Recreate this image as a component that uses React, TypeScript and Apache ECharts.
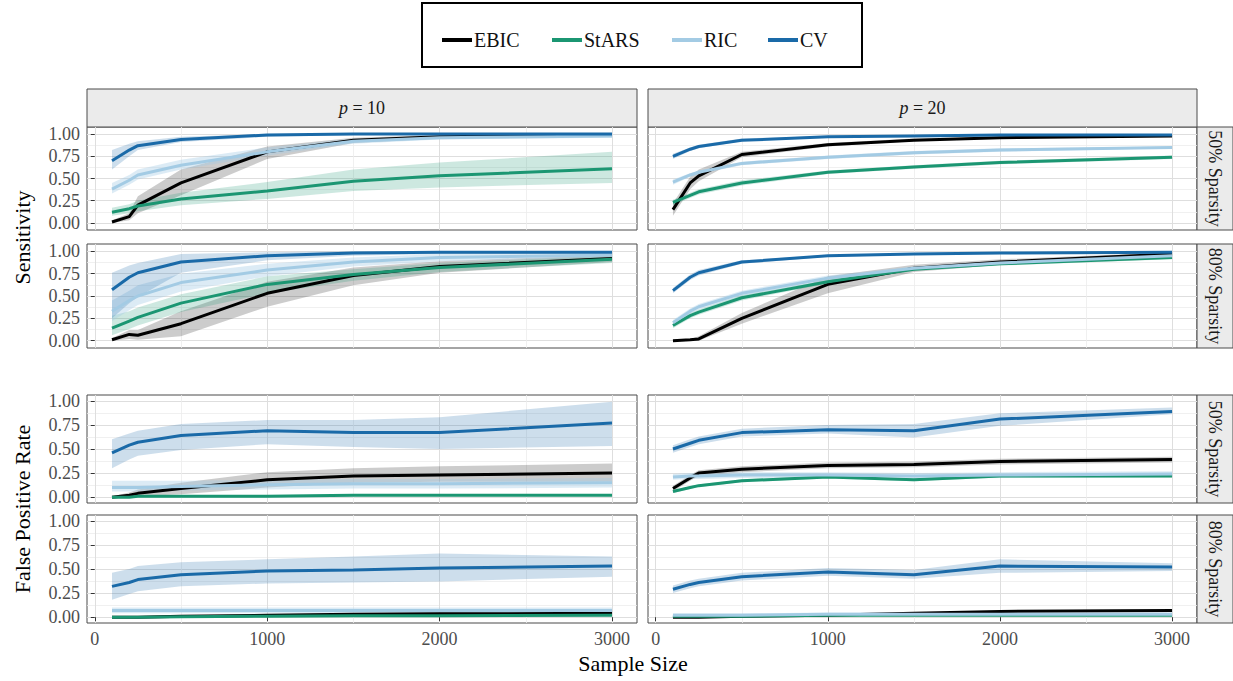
import React, { useEffect, useRef } from "react";
import * as echarts from "echarts";

// ---------- data ----------
const SAMPLE_SIZES = [100, 200, 250, 500, 1000, 1500, 2000, 3000];
const METHODS = ["EBIC", "StARS", "RIC", "CV"];
const COL_LABELS = ["10", "20"];
const ROW_LABELS = ["50% Sparsity", "80% Sparsity", "50% Sparsity", "80% Sparsity"];
const X_TICKS = [0, 1000, 2000, 3000];
const X_MINOR = [500, 1500, 2500];
const Y_TICKS = [0, 0.25, 0.5, 0.75, 1];
const Y_MINOR = [0.125, 0.375, 0.625, 0.875];

// p = 10, Sensitivity, 50% sparsity
const P10_SENS50_EBIC = [0.01, 0.07, 0.2, 0.45, 0.8, 0.93, 0.97, 0.99];
const P10_SENS50_EBIC_LO = [0.0, 0.03, 0.11, 0.31, 0.72, 0.9, 0.95, 0.98];
const P10_SENS50_EBIC_HI = [0.03, 0.11, 0.3, 0.6, 0.86, 0.96, 0.99, 1.0];
const P10_SENS50_STARS = [0.12, 0.16, 0.19, 0.27, 0.36, 0.47, 0.53, 0.61];
const P10_SENS50_STARS_LO = [0.08, 0.11, 0.13, 0.2, 0.27, 0.36, 0.4, 0.45];
const P10_SENS50_STARS_HI = [0.17, 0.21, 0.25, 0.34, 0.46, 0.6, 0.68, 0.8];
const P10_SENS50_RIC = [0.38, 0.48, 0.54, 0.65, 0.8, 0.92, 0.96, 0.98];
const P10_SENS50_RIC_LO = [0.33, 0.43, 0.49, 0.6, 0.76, 0.89, 0.94, 0.96];
const P10_SENS50_RIC_HI = [0.45, 0.54, 0.6, 0.71, 0.85, 0.95, 0.98, 0.99];
const P10_SENS50_CV = [0.7, 0.82, 0.87, 0.94, 0.99, 1.0, 1.0, 1.0];
const P10_SENS50_CV_LO = [0.6, 0.75, 0.82, 0.91, 0.97, 0.99, 0.99, 0.99];
const P10_SENS50_CV_HI = [0.82, 0.89, 0.92, 0.97, 1.0, 1.0, 1.0, 1.0];

// p = 10, Sensitivity, 80% sparsity
const P10_SENS80_EBIC = [0.01, 0.07, 0.06, 0.19, 0.53, 0.73, 0.83, 0.92];
const P10_SENS80_EBIC_LO = [0.0, 0.02, 0.01, 0.05, 0.38, 0.62, 0.76, 0.88];
const P10_SENS80_EBIC_HI = [0.03, 0.12, 0.12, 0.33, 0.66, 0.82, 0.89, 0.96];
const P10_SENS80_STARS = [0.14, 0.22, 0.26, 0.42, 0.63, 0.74, 0.82, 0.91];
const P10_SENS80_STARS_LO = [0.06, 0.13, 0.17, 0.32, 0.53, 0.67, 0.77, 0.87];
const P10_SENS80_STARS_HI = [0.28, 0.33, 0.37, 0.52, 0.72, 0.8, 0.87, 0.95];
const P10_SENS80_RIC = [0.33, 0.45, 0.5, 0.65, 0.79, 0.88, 0.93, 0.96];
const P10_SENS80_RIC_LO = [0.22, 0.34, 0.4, 0.55, 0.72, 0.83, 0.89, 0.93];
const P10_SENS80_RIC_HI = [0.45, 0.56, 0.62, 0.75, 0.86, 0.93, 0.97, 0.99];
const P10_SENS80_CV = [0.57, 0.71, 0.76, 0.88, 0.95, 0.98, 0.99, 0.99];
const P10_SENS80_CV_LO = [0.25, 0.42, 0.49, 0.76, 0.9, 0.95, 0.97, 0.98];
const P10_SENS80_CV_HI = [0.76, 0.84, 0.87, 0.97, 0.99, 1.0, 1.0, 1.0];

// p = 10, FPR, 50% sparsity
const P10_FPR50_EBIC = [0.0, 0.02, 0.04, 0.09, 0.18, 0.22, 0.23, 0.25];
const P10_FPR50_EBIC_LO = [0.0, 0.0, 0.01, 0.03, 0.1, 0.15, 0.16, 0.16];
const P10_FPR50_EBIC_HI = [0.01, 0.05, 0.08, 0.15, 0.26, 0.3, 0.32, 0.35];
const P10_FPR50_STARS = [0.0, 0.0, 0.01, 0.01, 0.01, 0.02, 0.02, 0.02];
const P10_FPR50_STARS_LO = [0.0, 0.0, 0.0, 0.0, 0.0, 0.01, 0.01, 0.01];
const P10_FPR50_STARS_HI = [0.01, 0.01, 0.02, 0.02, 0.02, 0.03, 0.03, 0.03];
const P10_FPR50_RIC = [0.1, 0.1, 0.1, 0.11, 0.13, 0.14, 0.14, 0.15];
const P10_FPR50_RIC_LO = [0.06, 0.06, 0.06, 0.07, 0.08, 0.09, 0.09, 0.1];
const P10_FPR50_RIC_HI = [0.17, 0.17, 0.17, 0.17, 0.18, 0.19, 0.19, 0.2];
const P10_FPR50_CV = [0.46, 0.54, 0.57, 0.64, 0.69, 0.67, 0.67, 0.77];
const P10_FPR50_CV_LO = [0.3, 0.39, 0.43, 0.49, 0.55, 0.52, 0.5, 0.53];
const P10_FPR50_CV_HI = [0.6, 0.66, 0.69, 0.76, 0.8, 0.8, 0.83, 0.99];

// p = 10, FPR, 80% sparsity
const P10_FPR80_EBIC = [0.0, 0.0, 0.0, 0.01, 0.02, 0.03, 0.035, 0.04];
const P10_FPR80_EBIC_LO = [0.0, 0.0, 0.0, 0.0, 0.01, 0.02, 0.02, 0.03];
const P10_FPR80_EBIC_HI = [0.01, 0.01, 0.01, 0.02, 0.03, 0.04, 0.05, 0.05];
const P10_FPR80_STARS = [0.0, 0.0, 0.0, 0.005, 0.01, 0.015, 0.015, 0.02];
const P10_FPR80_STARS_LO = [0.0, 0.0, 0.0, 0.0, 0.0, 0.005, 0.005, 0.01];
const P10_FPR80_STARS_HI = [0.01, 0.01, 0.01, 0.015, 0.02, 0.025, 0.025, 0.03];
const P10_FPR80_RIC = [0.07, 0.07, 0.07, 0.07, 0.07, 0.07, 0.07, 0.07];
const P10_FPR80_RIC_LO = [0.04, 0.04, 0.04, 0.04, 0.04, 0.04, 0.04, 0.04];
const P10_FPR80_RIC_HI = [0.1, 0.1, 0.1, 0.1, 0.1, 0.1, 0.1, 0.1];
const P10_FPR80_CV = [0.32, 0.36, 0.39, 0.44, 0.48, 0.49, 0.51, 0.53];
const P10_FPR80_CV_LO = [0.18, 0.24, 0.27, 0.32, 0.35, 0.36, 0.37, 0.42];
const P10_FPR80_CV_HI = [0.46, 0.5, 0.53, 0.57, 0.6, 0.63, 0.66, 0.63];

// p = 20, Sensitivity, 50% sparsity
const P20_SENS50_EBIC = [0.15, 0.45, 0.53, 0.77, 0.88, 0.93, 0.96, 0.98];
const P20_SENS50_EBIC_LO = [0.08, 0.38, 0.47, 0.74, 0.86, 0.92, 0.95, 0.97];
const P20_SENS50_EBIC_HI = [0.22, 0.52, 0.6, 0.8, 0.9, 0.95, 0.97, 0.99];
const P20_SENS50_STARS = [0.23, 0.31, 0.35, 0.45, 0.57, 0.63, 0.68, 0.74];
const P20_SENS50_STARS_LO = [0.2, 0.28, 0.32, 0.42, 0.55, 0.61, 0.66, 0.72];
const P20_SENS50_STARS_HI = [0.26, 0.34, 0.38, 0.48, 0.59, 0.65, 0.7, 0.76];
const P20_SENS50_RIC = [0.46, 0.54, 0.57, 0.67, 0.74, 0.79, 0.82, 0.85];
const P20_SENS50_RIC_LO = [0.43, 0.52, 0.55, 0.65, 0.72, 0.77, 0.8, 0.84];
const P20_SENS50_RIC_HI = [0.49, 0.56, 0.59, 0.69, 0.76, 0.81, 0.84, 0.86];
const P20_SENS50_CV = [0.75, 0.83, 0.86, 0.93, 0.97, 0.98, 0.99, 0.99];
const P20_SENS50_CV_LO = [0.72, 0.81, 0.84, 0.92, 0.96, 0.97, 0.98, 0.98];
const P20_SENS50_CV_HI = [0.78, 0.85, 0.88, 0.95, 0.98, 0.99, 1.0, 1.0];

// p = 20, Sensitivity, 80% sparsity
const P20_SENS80_EBIC = [0.0, 0.01, 0.02, 0.25, 0.63, 0.81, 0.88, 0.97];
const P20_SENS80_EBIC_LO = [0.0, 0.0, 0.0, 0.19, 0.53, 0.77, 0.85, 0.95];
const P20_SENS80_EBIC_HI = [0.01, 0.02, 0.05, 0.31, 0.72, 0.85, 0.91, 0.99];
const P20_SENS80_STARS = [0.17, 0.28, 0.32, 0.48, 0.66, 0.8, 0.86, 0.93];
const P20_SENS80_STARS_LO = [0.14, 0.25, 0.29, 0.45, 0.64, 0.78, 0.84, 0.91];
const P20_SENS80_STARS_HI = [0.2, 0.31, 0.35, 0.51, 0.68, 0.82, 0.88, 0.95];
const P20_SENS80_RIC = [0.2, 0.33, 0.38, 0.53, 0.7, 0.81, 0.87, 0.95];
const P20_SENS80_RIC_LO = [0.17, 0.3, 0.35, 0.5, 0.67, 0.79, 0.85, 0.93];
const P20_SENS80_RIC_HI = [0.23, 0.36, 0.41, 0.56, 0.73, 0.83, 0.89, 0.97];
const P20_SENS80_CV = [0.56, 0.71, 0.76, 0.88, 0.95, 0.97, 0.98, 0.99];
const P20_SENS80_CV_LO = [0.53, 0.68, 0.73, 0.86, 0.94, 0.96, 0.97, 0.98];
const P20_SENS80_CV_HI = [0.59, 0.74, 0.79, 0.9, 0.96, 0.98, 0.99, 1.0];

// p = 20, FPR, 50% sparsity
const P20_FPR50_EBIC = [0.09, 0.2, 0.25, 0.29, 0.33, 0.34, 0.37, 0.39];
const P20_FPR50_EBIC_LO = [0.06, 0.17, 0.22, 0.26, 0.3, 0.31, 0.34, 0.36];
const P20_FPR50_EBIC_HI = [0.12, 0.23, 0.28, 0.32, 0.36, 0.37, 0.4, 0.42];
const P20_FPR50_STARS = [0.06, 0.1, 0.12, 0.17, 0.21, 0.18, 0.22, 0.22];
const P20_FPR50_STARS_LO = [0.045, 0.085, 0.105, 0.155, 0.195, 0.165, 0.205, 0.205];
const P20_FPR50_STARS_HI = [0.075, 0.115, 0.135, 0.185, 0.225, 0.195, 0.235, 0.235];
const P20_FPR50_RIC = [0.21, 0.22, 0.22, 0.23, 0.23, 0.22, 0.23, 0.24];
const P20_FPR50_RIC_LO = [0.18, 0.19, 0.19, 0.2, 0.2, 0.19, 0.2, 0.21];
const P20_FPR50_RIC_HI = [0.24, 0.25, 0.25, 0.26, 0.26, 0.25, 0.26, 0.27];
const P20_FPR50_CV = [0.5, 0.56, 0.59, 0.67, 0.7, 0.69, 0.81, 0.89];
const P20_FPR50_CV_LO = [0.46, 0.52, 0.55, 0.63, 0.66, 0.62, 0.74, 0.86];
const P20_FPR50_CV_HI = [0.54, 0.6, 0.63, 0.71, 0.75, 0.76, 0.87, 0.93];

// p = 20, FPR, 80% sparsity
const P20_FPR80_EBIC = [0.0, 0.0, 0.0, 0.01, 0.02, 0.04, 0.06, 0.07];
const P20_FPR80_EBIC_LO = [0.0, 0.0, 0.0, 0.0, 0.01, 0.03, 0.05, 0.06];
const P20_FPR80_EBIC_HI = [0.01, 0.01, 0.01, 0.02, 0.03, 0.05, 0.07, 0.08];
const P20_FPR80_STARS = [0.01, 0.01, 0.01, 0.01, 0.02, 0.02, 0.02, 0.02];
const P20_FPR80_STARS_LO = [0.0, 0.0, 0.0, 0.0, 0.01, 0.01, 0.01, 0.01];
const P20_FPR80_STARS_HI = [0.02, 0.02, 0.02, 0.02, 0.03, 0.03, 0.03, 0.03];
const P20_FPR80_RIC = [0.02, 0.02, 0.02, 0.02, 0.03, 0.03, 0.03, 0.03];
const P20_FPR80_RIC_LO = [0.01, 0.01, 0.01, 0.01, 0.02, 0.02, 0.02, 0.02];
const P20_FPR80_RIC_HI = [0.04, 0.04, 0.04, 0.04, 0.05, 0.05, 0.05, 0.05];
const P20_FPR80_CV = [0.29, 0.34, 0.36, 0.42, 0.47, 0.44, 0.53, 0.52];
const P20_FPR80_CV_LO = [0.25, 0.3, 0.32, 0.38, 0.43, 0.4, 0.46, 0.48];
const P20_FPR80_CV_HI = [0.33, 0.38, 0.4, 0.46, 0.51, 0.49, 0.6, 0.56];

type Trio = [number[], number[], number[]];
type Panel = { col: number; row: number; series: Record<string, Trio> };

const PANELS: Panel[] = [
  { col: 0, row: 0, series: {
    EBIC: [P10_SENS50_EBIC, P10_SENS50_EBIC_LO, P10_SENS50_EBIC_HI],
    StARS: [P10_SENS50_STARS, P10_SENS50_STARS_LO, P10_SENS50_STARS_HI],
    RIC: [P10_SENS50_RIC, P10_SENS50_RIC_LO, P10_SENS50_RIC_HI],
    CV: [P10_SENS50_CV, P10_SENS50_CV_LO, P10_SENS50_CV_HI] } },
  { col: 0, row: 1, series: {
    EBIC: [P10_SENS80_EBIC, P10_SENS80_EBIC_LO, P10_SENS80_EBIC_HI],
    StARS: [P10_SENS80_STARS, P10_SENS80_STARS_LO, P10_SENS80_STARS_HI],
    RIC: [P10_SENS80_RIC, P10_SENS80_RIC_LO, P10_SENS80_RIC_HI],
    CV: [P10_SENS80_CV, P10_SENS80_CV_LO, P10_SENS80_CV_HI] } },
  { col: 0, row: 2, series: {
    EBIC: [P10_FPR50_EBIC, P10_FPR50_EBIC_LO, P10_FPR50_EBIC_HI],
    StARS: [P10_FPR50_STARS, P10_FPR50_STARS_LO, P10_FPR50_STARS_HI],
    RIC: [P10_FPR50_RIC, P10_FPR50_RIC_LO, P10_FPR50_RIC_HI],
    CV: [P10_FPR50_CV, P10_FPR50_CV_LO, P10_FPR50_CV_HI] } },
  { col: 0, row: 3, series: {
    EBIC: [P10_FPR80_EBIC, P10_FPR80_EBIC_LO, P10_FPR80_EBIC_HI],
    StARS: [P10_FPR80_STARS, P10_FPR80_STARS_LO, P10_FPR80_STARS_HI],
    RIC: [P10_FPR80_RIC, P10_FPR80_RIC_LO, P10_FPR80_RIC_HI],
    CV: [P10_FPR80_CV, P10_FPR80_CV_LO, P10_FPR80_CV_HI] } },
  { col: 1, row: 0, series: {
    EBIC: [P20_SENS50_EBIC, P20_SENS50_EBIC_LO, P20_SENS50_EBIC_HI],
    StARS: [P20_SENS50_STARS, P20_SENS50_STARS_LO, P20_SENS50_STARS_HI],
    RIC: [P20_SENS50_RIC, P20_SENS50_RIC_LO, P20_SENS50_RIC_HI],
    CV: [P20_SENS50_CV, P20_SENS50_CV_LO, P20_SENS50_CV_HI] } },
  { col: 1, row: 1, series: {
    EBIC: [P20_SENS80_EBIC, P20_SENS80_EBIC_LO, P20_SENS80_EBIC_HI],
    StARS: [P20_SENS80_STARS, P20_SENS80_STARS_LO, P20_SENS80_STARS_HI],
    RIC: [P20_SENS80_RIC, P20_SENS80_RIC_LO, P20_SENS80_RIC_HI],
    CV: [P20_SENS80_CV, P20_SENS80_CV_LO, P20_SENS80_CV_HI] } },
  { col: 1, row: 2, series: {
    EBIC: [P20_FPR50_EBIC, P20_FPR50_EBIC_LO, P20_FPR50_EBIC_HI],
    StARS: [P20_FPR50_STARS, P20_FPR50_STARS_LO, P20_FPR50_STARS_HI],
    RIC: [P20_FPR50_RIC, P20_FPR50_RIC_LO, P20_FPR50_RIC_HI],
    CV: [P20_FPR50_CV, P20_FPR50_CV_LO, P20_FPR50_CV_HI] } },
  { col: 1, row: 3, series: {
    EBIC: [P20_FPR80_EBIC, P20_FPR80_EBIC_LO, P20_FPR80_EBIC_HI],
    StARS: [P20_FPR80_STARS, P20_FPR80_STARS_LO, P20_FPR80_STARS_HI],
    RIC: [P20_FPR80_RIC, P20_FPR80_RIC_LO, P20_FPR80_RIC_HI],
    CV: [P20_FPR80_CV, P20_FPR80_CV_LO, P20_FPR80_CV_HI] } },
];

// ---------- styling / layout ----------
const FONT = "Liberation Serif";
const LINE_COLORS: Record<string, string> = { EBIC: "#000000", StARS: "#1b9672", RIC: "#a3cbe4", CV: "#1a6aa8" };
const BAND_COLORS: Record<string, string> = {
  EBIC: "rgba(0,0,0,0.2)",
  StARS: "rgba(27,150,114,0.22)",
  RIC: "rgba(163,203,228,0.38)",
  CV: "rgba(26,106,168,0.22)",
};
const COLS = [{ left: 87, width: 550 }, { left: 648, width: 549 }];
const ROWS = [
  { top: 127, height: 103, min: -0.08, max: 1.08 },
  { top: 244, height: 104, min: -0.082, max: 1.082 },
  { top: 395, height: 108, min: -0.06, max: 1.06 },
  { top: 515, height: 108, min: -0.06, max: 1.06 },
];
const X_MIN = -45;
const X_MAX = 3145;

function ribbonRenderer(color: string) {
  return (params: any, api: any) => {
    if (params.dataIndexInside !== 0) return null;
    const n = params.dataInsideLength;
    const upper: number[][] = [];
    const lower: number[][] = [];
    for (let i = 0; i < n; i++) {
      const x = api.value(0, i);
      upper.push(api.coord([x, api.value(2, i)]));
      lower.push(api.coord([x, api.value(1, i)]));
    }
    const points = upper.concat(lower.reverse());
    return {
      type: "polygon",
      shape: { points },
      style: { fill: color, stroke: "none" },
      silent: true,
    };
  };
}

function buildOption() {
  const grid: any[] = [];
  const xAxis: any[] = [];
  const yAxis: any[] = [];
  const series: any[] = [];

  PANELS.forEach((p, k) => {
    const c = COLS[p.col];
    const r = ROWS[p.row];
    grid.push({
      left: c.left, top: r.top, width: c.width, height: r.height,
      show: true, borderColor: "#4a4a4a", borderWidth: 1, backgroundColor: "#ffffff",
    });
    const showX = p.row === 3;
    const showY = p.col === 0;
    xAxis.push({
      type: "value", gridIndex: k, min: X_MIN, max: X_MAX,
      axisLine: { show: false },
      axisTick: { show: showX, length: 4, customValues: X_TICKS, lineStyle: { color: "#333" } },
      axisLabel: {
        show: showX, customValues: X_TICKS, margin: 7, color: "#4d4d4d", fontSize: 18, fontFamily: FONT,
        formatter: (v: number) => String(Math.round(v)),
      },
      splitLine: { show: true, lineStyle: { color: "#dedede", width: 1 } },
    });
    xAxis.push({
      type: "value", gridIndex: k, min: X_MIN, max: X_MAX,
      axisLine: { show: false },
      axisTick: { show: false, customValues: X_MINOR },
      axisLabel: { show: false, customValues: X_MINOR },
      splitLine: { show: true, lineStyle: { color: "#ececec", width: 0.8 } },
    });
    yAxis.push({
      type: "value", gridIndex: k, min: r.min, max: r.max,
      axisLine: { show: false },
      axisTick: { show: showY, length: 4, customValues: Y_TICKS, lineStyle: { color: "#333" } },
      axisLabel: {
        show: showY, customValues: Y_TICKS, margin: 7, color: "#4d4d4d", fontSize: 18, fontFamily: FONT,
        formatter: (v: number) => v.toFixed(2),
      },
      splitLine: { show: true, lineStyle: { color: "#dedede", width: 1 } },
    });
    yAxis.push({
      type: "value", gridIndex: k, min: r.min, max: r.max,
      axisLine: { show: false },
      axisTick: { show: false, customValues: Y_MINOR },
      axisLabel: { show: false, customValues: Y_MINOR },
      splitLine: { show: true, lineStyle: { color: "#ececec", width: 0.8 } },
    });

    const xi = 2 * k;
    const yi = 2 * k;
    METHODS.forEach((m) => {
      const [, lo, hi] = p.series[m];
      series.push({
        type: "custom", name: `${m} interval`, xAxisIndex: xi, yAxisIndex: yi,
        data: SAMPLE_SIZES.map((x, i) => [x, lo[i], hi[i]]),
        encode: { x: 0, y: [1, 2] },
        renderItem: ribbonRenderer(BAND_COLORS[m]),
        silent: true, z: 1, clip: true,
      });
    });
    METHODS.forEach((m) => {
      const [mean] = p.series[m];
      series.push({
        type: "line", name: m, xAxisIndex: xi, yAxisIndex: yi,
        data: SAMPLE_SIZES.map((x, i) => [x, mean[i]]),
        symbol: "none", lineStyle: { width: 3, color: LINE_COLORS[m] }, itemStyle: { color: LINE_COLORS[m] },
        z: 3, clip: false,
      });
    });
  });

  const legendLefts = [437, 547, 667, 763];
  const legend = METHODS.map((m, i) => ({
    data: [{ name: m, icon: "rect" }],
    left: legendLefts[i], top: 25,
    itemWidth: 30, itemHeight: 4, itemGap: 0, selectedMode: false, z: 10,
    textStyle: { fontFamily: FONT, fontSize: 20, color: "#111", padding: [0, 0, 0, -3] },
  }));

  const graphic: any[] = [];
  graphic.push({
    type: "rect", shape: { x: 422, y: 3, width: 440, height: 64 },
    style: { fill: "#ffffff", stroke: "#000000", lineWidth: 2 }, z: 0,
  });
  COLS.forEach((c, i) => {
    graphic.push({
      type: "rect", shape: { x: c.left, y: 89, width: c.width, height: 38 },
      style: { fill: "#ebebeb", stroke: "#4a4a4a", lineWidth: 1 }, z: 0,
    });
    graphic.push({
      type: "text", x: c.left + c.width / 2, y: 108, z: 1,
      style: {
        text: `{i|p} = ${COL_LABELS[i]}`, align: "center", verticalAlign: "middle",
        fontFamily: FONT, fontSize: 18, fill: "#1a1a1a",
        rich: { i: { fontStyle: "italic", fontFamily: FONT, fontSize: 18, fill: "#1a1a1a" } },
      },
    });
  });
  ROWS.forEach((r, i) => {
    graphic.push({
      type: "rect", shape: { x: 1197, y: r.top, width: 36, height: r.height },
      style: { fill: "#ebebeb", stroke: "#4a4a4a", lineWidth: 1 }, z: 0,
    });
    graphic.push({
      type: "text", x: 1215, y: r.top + r.height / 2, rotation: -Math.PI / 2, z: 1,
      style: {
        text: ROW_LABELS[i], align: "center", verticalAlign: "middle",
        fontFamily: FONT, fontSize: 18, fill: "#1a1a1a",
      },
    });
  });
  graphic.push({
    type: "text", x: 22, y: (ROWS[0].top + ROWS[1].top + ROWS[1].height) / 2, rotation: Math.PI / 2, z: 1,
    style: { text: "Sensitivity", align: "center", verticalAlign: "middle", fontFamily: FONT, fontSize: 22, fill: "#000" },
  });
  graphic.push({
    type: "text", x: 22, y: (ROWS[2].top + ROWS[3].top + ROWS[3].height) / 2, rotation: Math.PI / 2, z: 1,
    style: { text: "False Positive Rate", align: "center", verticalAlign: "middle", fontFamily: FONT, fontSize: 22, fill: "#000" },
  });
  graphic.push({
    type: "text", x: 633, y: 663, z: 1,
    style: { text: "Sample Size", align: "center", verticalAlign: "middle", fontFamily: FONT, fontSize: 22, fill: "#000" },
  });

  return {
    animation: false,
    backgroundColor: "#ffffff",
    textStyle: { fontFamily: FONT },
    grid, xAxis, yAxis, series, legend, graphic,
  };
}

export default function App() {
  const ref = useRef<HTMLDivElement>(null);
  useEffect(() => {
    if (!ref.current) return;
    const chart = echarts.init(ref.current, undefined, { renderer: "svg" });
    chart.setOption(buildOption() as any);
    return () => chart.dispose();
  }, []);
  return (
    <div
      ref={ref}
      style={{ position: "fixed", left: 0, top: 0, width: 1233, height: 681, background: "#fff" }}
    />
  );
}
